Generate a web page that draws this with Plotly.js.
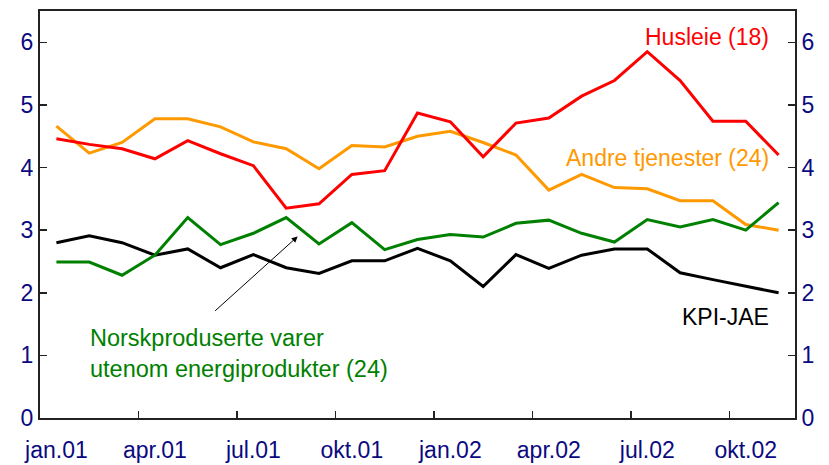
<!DOCTYPE html>
<html>
<head>
<meta charset="utf-8">
<script src="https://cdn.plot.ly/plotly-3.0.1.min.js"></script>
<style>html,body{margin:0;padding:0;background:#fff;}#chart{width:829px;height:465px;}</style>
</head>
<body>
<div id="chart"></div>
<script>
const months = ['jan.01','feb.01','mar.01','apr.01','mai.01','jun.01','jul.01','aug.01','sep.01','okt.01','nov.01','des.01',
                'jan.02','feb.02','mar.02','apr.02','mai.02','jun.02','jul.02','aug.02','sep.02','okt.02','nov.02'];
const husleie = [4.46,4.37,4.30,4.14,4.43,4.22,4.03,3.35,3.42,3.89,3.95,4.87,4.73,4.17,4.71,4.79,5.14,5.39,5.85,5.39,4.74,4.74,4.20];
const andreTjenester = [4.66,4.23,4.40,4.78,4.78,4.65,4.41,4.30,3.98,4.35,4.33,4.50,4.58,4.40,4.20,3.64,3.89,3.68,3.66,3.47,3.47,3.09,3.00];
const norskproduserte = [2.49,2.49,2.28,2.60,3.20,2.77,2.95,3.20,2.78,3.12,2.69,2.85,2.93,2.89,3.11,3.16,2.95,2.81,3.17,3.05,3.17,3.00,3.44];
const kpiJae = [2.80,2.91,2.80,2.60,2.70,2.40,2.61,2.40,2.31,2.51,2.51,2.71,2.51,2.10,2.61,2.39,2.60,2.70,2.70,2.32,2.21,2.11,2.00];
const tickLabels = ['jan.01','apr.01','jul.01','okt.01','jan.02','apr.02','jul.02','okt.02'];
const yTicks = [0,1,2,3,4,5,6];

const idx = months.map((m, i) => i);
const labelPos = tickLabels.map(l => months.indexOf(l));
const boundaryPos = labelPos.slice(1).map(p => p - 0.5);

const FONT = 'Arial, "Liberation Sans", sans-serif';
const NAVY = '#0a0a80';
const AXC = '#222';

function line(y, color, yaxis, name) {
  return {x: idx, y: y, type: 'scatter', mode: 'lines', name: name, yaxis: yaxis,
          line: {color: color, width: 3}, hoverinfo: 'skip'};
}

const data = [
  line(andreTjenester, '#ff9900', 'y', 'Andre tjenester (24)'),
  line(husleie, '#ff0000', 'y', 'Husleie (18)'),
  line(norskproduserte, '#008000', 'y2', 'Norskproduserte varer utenom energiprodukter (24)'),
  line(kpiJae, '#000000', 'y', 'KPI-JAE')
];

const yCommon = {
  range: [0, 6.5], tickmode: 'array', tickvals: yTicks, ticktext: yTicks.map(String),
  ticks: 'inside', ticklen: 7, tickwidth: 1.5, tickcolor: AXC,
  showline: true, linecolor: AXC, linewidth: 2, showgrid: false, zeroline: false,
  tickfont: {family: FONT, size: 23, color: NAVY}, fixedrange: true
};

const layout = {
  width: 829, height: 465,
  margin: {l: 40, r: 34, t: 11, b: 47},
  paper_bgcolor: '#ffffff', plot_bgcolor: '#ffffff',
  showlegend: false,
  xaxis: {
    range: [-0.5, 22.5], tickmode: 'array', tickvals: labelPos, ticktext: tickLabels,
    ticks: '', showline: true, mirror: true, linecolor: AXC, linewidth: 2,
    showgrid: false, zeroline: false, ticklabelstandoff: 10,
    tickfont: {family: FONT, size: 23, color: NAVY},
    minor: {tickmode: 'array', tickvals: boundaryPos, ticks: 'inside', ticklen: 7, tickwidth: 1.5, tickcolor: AXC, showgrid: false},
    fixedrange: true
  },
  yaxis: Object.assign({}, yCommon, {side: 'left'}),
  yaxis2: Object.assign({}, yCommon, {side: 'right', overlaying: 'y'}),
  annotations: [
    {x: 21.77, y: 6.08, xref: 'x', yref: 'y', text: 'Husleie (18)', showarrow: false,
     xanchor: 'right', yanchor: 'middle', font: {family: FONT, size: 23, color: '#ff0000'}},
    {x: 21.77, y: 4.15, xref: 'x', yref: 'y', text: 'Andre tjenester (24)', showarrow: false,
     xanchor: 'right', yanchor: 'middle', font: {family: FONT, size: 23, color: '#ff9900'}},
    {x: 21.77, y: 1.61, xref: 'x', yref: 'y', text: 'KPI-JAE', showarrow: false,
     xanchor: 'right', yanchor: 'middle', font: {family: FONT, size: 23, color: '#000000'}},
    {x: 0.95, y: 1.03, xref: 'x', yref: 'y', text: 'Norskproduserte varer<br>utenom energiprodukter (24)', showarrow: false,
     xanchor: 'left', yanchor: 'middle', align: 'left', font: {family: FONT, size: 23.5, color: '#008000'}},
    {x: 7.35, y: 2.90, xref: 'x', yref: 'y', ax: 4.79, ay: 1.69, axref: 'x', ayref: 'y',
     text: '', showarrow: true, arrowhead: 2, arrowsize: 1.2, arrowwidth: 1, arrowcolor: '#000000', standoff: 0}
  ]
};

Plotly.newPlot('chart', data, layout, {displayModeBar: false, staticPlot: true});
</script>
</body>
</html>
